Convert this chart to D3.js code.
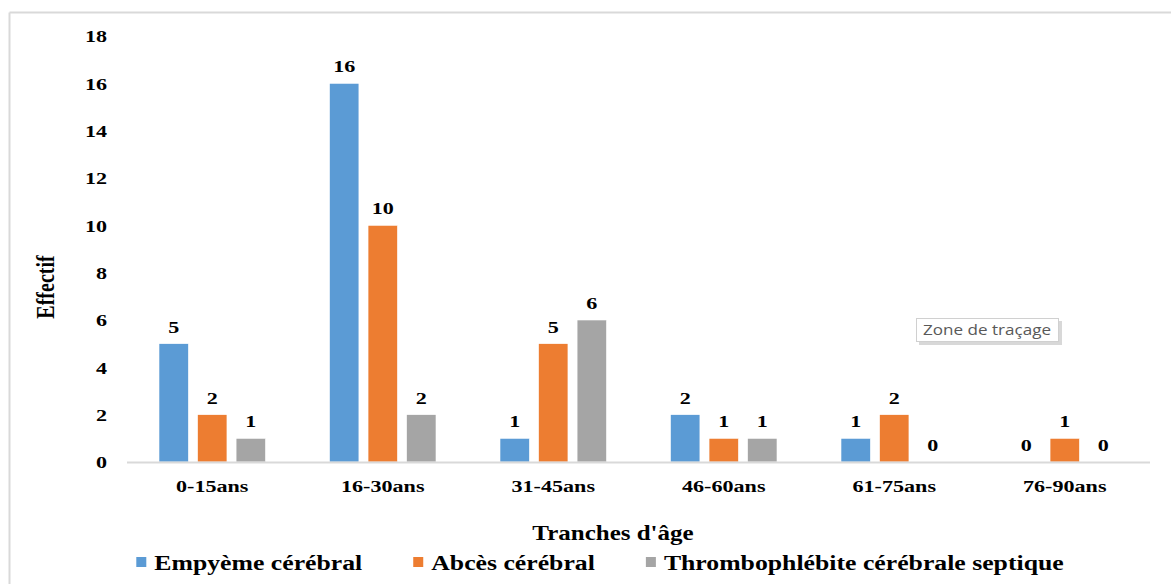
<!DOCTYPE html>
<html>
<head>
<meta charset="utf-8">
<script src="https://cdn.jsdelivr.net/npm/d3@7"></script>
<style>
  html, body { margin: 0; padding: 0; background: #fff; }
  svg { display: block; }
  .serif { font-family: "Liberation Serif", "Times New Roman", serif; font-weight: bold; fill: #000; }
</style>
</head>
<body>
<svg id="chart" width="1171" height="584"></svg>
<script>
// Age groups and counts per diagnosis
const categories = ["0-15ans", "16-30ans", "31-45ans", "46-60ans", "61-75ans", "76-90ans"];
const seriesNames = ["Empyème cérébral", "Abcès cérébral", "Thrombophlébite cérébrale septique"];
const empyeme = [5, 16, 1, 2, 1, 0];
const abces = [2, 10, 5, 1, 2, 1];
const thrombo = [1, 2, 6, 1, 0, 0];
const yTicks = [0, 2, 4, 6, 8, 10, 12, 14, 16, 18];
const colors = ["#5B9BD5", "#ED7D31", "#A5A5A5"];

const seriesValues = [empyeme, abces, thrombo];
const rows = categories.map((c, i) => ({
  cat: c,
  vals: seriesNames.map((s, j) => ({ series: s, value: seriesValues[j][i], color: colors[j] }))
}));

const svg = d3.select("#chart");
const W = 1171, H = 584;
const plot = { left: 127, right: 1150, top: 36, bottom: 462 };
const stretch = 1.3; // horizontal widening of the bold serif labels

// outer chart frame (top and left edges visible)
svg.append("line").attr("x1", 9.5).attr("x2", W).attr("y1", 12.5).attr("y2", 12.5)
  .attr("stroke", "#d9d9d9").attr("stroke-width", 2);
svg.append("line").attr("x1", 9.5).attr("x2", 9.5).attr("y1", 12.5).attr("y2", H)
  .attr("stroke", "#d9d9d9").attr("stroke-width", 2);

const y = d3.scaleLinear().domain([0, 18]).range([plot.bottom, plot.top]);
const x0 = d3.scaleBand().domain(categories).range([plot.left, plot.right]).padding(0);
const groupPad = 32;
const x1 = d3.scaleBand().domain(seriesNames)
  .range([groupPad, x0.bandwidth() - groupPad])
  .paddingInner(0.237).paddingOuter(0);

// y tick labels (no axis line, no gridlines)
const yAxis = d3.axisLeft(y).tickValues(yTicks).tickSize(0).tickPadding(0);
const yg = svg.append("g").attr("transform", `translate(${plot.left - 20},0)`).call(yAxis);
yg.select(".domain").remove();
yg.selectAll(".tick text")
  .attr("class", "serif")
  .attr("font-size", 17)
  .attr("x", 0).attr("dy", "0.35em")
  .attr("text-anchor", "end")
  .attr("transform", `scale(${stretch},1)`);

// bars
const groups = svg.append("g").selectAll("g.cat").data(rows).join("g")
  .attr("class", "cat")
  .attr("transform", d => `translate(${x0(d.cat)},0)`);

groups.selectAll("rect").data(d => d.vals).join("rect")
  .attr("x", d => x1(d.series))
  .attr("width", x1.bandwidth())
  .attr("y", d => y(d.value))
  .attr("height", d => y(0) - y(d.value))
  .attr("fill", d => d.color)
  .attr("stroke", "#ffffff").attr("stroke-width", 0.6);

// value labels above bars
groups.selectAll("text.val").data(d => d.vals).join("text")
  .attr("class", "val serif")
  .attr("font-size", 17)
  .attr("text-anchor", "middle")
  .attr("transform", d => `translate(${x1(d.series) + x1.bandwidth() / 2},${y(d.value) - 11}) scale(${stretch},1)`)
  .text(d => d.value);

// x axis line
svg.append("line")
  .attr("x1", plot.left).attr("x2", plot.right)
  .attr("y1", plot.bottom + 0.5).attr("y2", plot.bottom + 0.5)
  .attr("stroke", "#d9d9d9").attr("stroke-width", 2);

// category labels
svg.append("g").selectAll("text").data(categories).join("text")
  .attr("class", "serif")
  .attr("font-size", 17)
  .attr("text-anchor", "middle")
  .attr("transform", d => `translate(${x0(d) + x0.bandwidth() / 2},${plot.bottom + 30}) scale(${stretch},1)`)
  .text(d => d);

// axis titles
svg.append("text").attr("class", "serif")
  .attr("font-size", 21).attr("text-anchor", "middle")
  .attr("transform", `translate(613,540) scale(1.19,1)`)
  .text("Tranches d'âge");

svg.append("text").attr("class", "serif")
  .attr("font-size", 20).attr("text-anchor", "middle")
  .attr("transform", `translate(54,287) rotate(-90) scale(1,1.3)`)
  .text("Effectif");

// legend, centred under the chart
const legendG = svg.append("g").attr("transform", "translate(0,570)");
const legScale = 1.17, sw = 10, swGap = 8, itemGap = 51;
const items = legendG.selectAll("g").data(seriesNames).join("g");
items.append("rect")
  .attr("width", sw).attr("height", sw)
  .attr("y", -13)
  .attr("fill", (d, i) => colors[i]);
items.append("text").attr("class", "serif")
  .attr("font-size", 22)
  .attr("transform", `translate(${sw + swGap},0) scale(${legScale},1)`)
  .text(d => d);
const widths = [];
items.each(function () {
  const t = d3.select(this).select("text").node();
  widths.push(sw + swGap + t.getComputedTextLength() * legScale);
});
const total = d3.sum(widths) + itemGap * (widths.length - 1);
let cx = 600 - total / 2;
items.each(function (d, i) {
  d3.select(this).attr("transform", `translate(${cx},0)`);
  cx += widths[i] + itemGap;
});

// "Zone de traçage" tooltip
const tip = svg.append("g").attr("transform", "translate(916,318)");
tip.append("rect").attr("x", 3).attr("y", 3).attr("width", 143).attr("height", 24)
  .attr("fill", "#c8c8c8").attr("opacity", 0.7);
tip.append("rect").attr("x", 0.5).attr("y", 0.5).attr("width", 142).attr("height", 23)
  .attr("fill", "#ffffff").attr("stroke", "#d0d0d0");
tip.append("text")
  .attr("font-family", "'Open Sans', 'Noto Sans', sans-serif")
  .attr("font-size", 14).attr("fill", "#595959")
  .attr("transform", "translate(7,17) scale(1.22,1)")
  .text("Zone de traçage");
</script>
</body>
</html>
